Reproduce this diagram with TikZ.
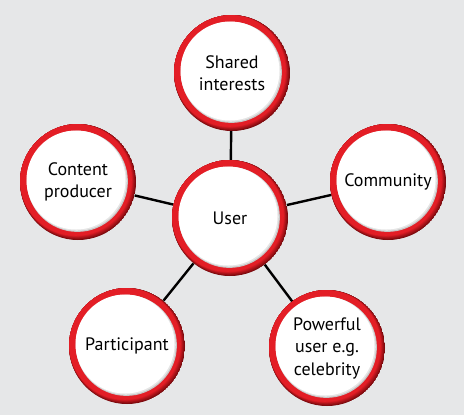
\documentclass[tikz,border=0pt]{standalone}
\usepackage{fontspec}
\setmainfont{PT Sans}
\definecolor{bg}{HTML}{E6E7E8}
\definecolor{ringred}{HTML}{E31E26}
\definecolor{ringdark}{HTML}{7A0A0E}
\pgfdeclarelayer{bottom}
\pgfdeclarelayer{links}
\pgfsetlayers{bottom,links,main}
\begin{document}
\begin{tikzpicture}[x=1pt,y=-1pt,
  hub/.style={circle,minimum size=116pt,inner sep=0pt,align=center,
    font=\fontsize{18}{22.5}\selectfont,text=black,
    path picture={
      \foreach \k in {0,...,7}{
        \pgfmathsetmacro{\mix}{100*\k/7}
        \fill[ringred!\mix!ringdark] ([shift={(-0.3*\k,-0.3*\k)}]path picture bounding box.center) circle ({58-0.3*\k});
      }
      \fill[black!22] ([shift={(-0.6,-0.6)}]path picture bounding box.center) circle (50.5);
      \fill[black!10] ([shift={(-1.2,-1.2)}]path picture bounding box.center) circle (50);
      \fill[white] ([shift={(-2,-2)}]path picture bounding box.center) circle (49.5);
    }},
  link/.style={line width=2.4pt,black}]
\begin{pgfonlayer}{bottom}
\fill[bg] (0,0) rectangle (464,415);
\end{pgfonlayer}
\useasboundingbox (0,0) rectangle (464,415);
\node[hub] (user) at (230,218) {User};
\node[hub] (shared) at (232,73) {Shared\\interests};
\node[hub] (content) at (78,182) {Content\\producer};
\node[hub] (community) at (388,182) {Community};
\node[hub] (participant) at (127,346) {Participant};
\node[hub] (powerful) at (327,348) {Powerful\\user e.g.\\celebrity};
\begin{pgfonlayer}{links}
\foreach \n in {shared,content,community,participant,powerful}
  \draw[link] (user) -- (\n);
\end{pgfonlayer}
\end{tikzpicture}
\end{document}
